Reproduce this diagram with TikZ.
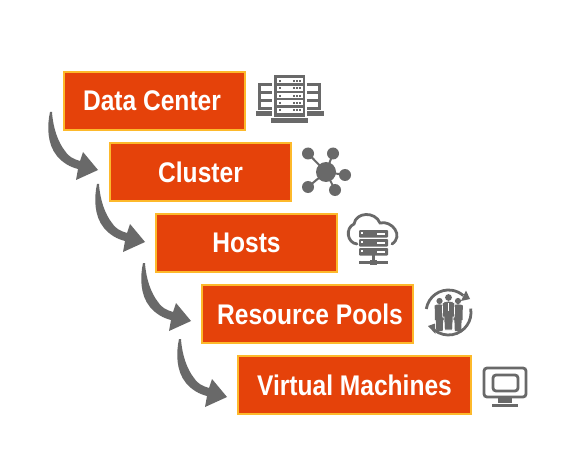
\documentclass[tikz,border=0pt]{standalone}
\usepackage{fontspec}
\setmainfont[FakeStretch=0.865]{Liberation Sans}
\usetikzlibrary{calc}
\definecolor{boxfill}{HTML}{E5420A}
\definecolor{boxline}{HTML}{FDB92B}
\definecolor{icon}{HTML}{696969}
\tikzset{
 x=1pt,y=-1pt,
 level/.style={draw=boxline,line width=2.3pt,fill=boxfill,text=white,font=\fontsize{28.4}{32}\selectfont\bfseries,inner sep=0pt,outer sep=0pt,minimum height=57.5pt},
 lineicon/.style={draw=icon,fill=none,line width=2.8pt},
 pics/flow/.style={code={
  \fill[icon] (-1,0) .. controls (-4,14) and (-4,32) .. (6,44)
    .. controls (12,51) and (19,55) .. (27,57) -- (25,68) -- (47,58) -- (32,40) -- (29,49)
    .. controls (22,47) and (17,44) .. (14,39)
    .. controls (7,30) and (2,16) .. (1,0) -- cycle;
 }},
 pics/person/.style={code={
  \fill[icon] (0,-5) circle (3.1);
  \fill[icon] (-4.8,-0.5) .. controls (-3,-2) and (3,-2) .. (4.8,-0.5) -- (4.6,14) -- (3.6,14) -- (3.2,25) -- (-3.2,25) -- (-3.6,14) -- (-4.6,14) -- cycle;
 }}
}
\begin{document}
\begin{tikzpicture}
\useasboundingbox (0,0) rectangle (575,465);
\fill[white] (0,0) rectangle (575,465);
% boxes
\node[level,minimum width=180.5pt] (dc) at (154.5,101) {\hspace*{-5pt}\raisebox{0.6pt}{Data Center}};
\node[level,minimum width=180.5pt] (cl) at (200.5,172) {\raisebox{-1pt}{Cluster}};
\node[level,minimum width=180.5pt] (ho) at (246.5,243) {\raisebox{-1pt}{Hosts}};
\node[level,minimum width=210.5pt] (rp) at (307.5,314) {\hspace*{5pt}\raisebox{-1pt}{Resource Pools}};
\node[level,minimum width=233.5pt] (vm) at (354.5,385) {Virtual Machines};
% flow arrows
\coordinate (a1) at (51,112);
\coordinate (a2) at (98,184);
\coordinate (a3) at (144,263);
\coordinate (a4) at (180,339);
\pic at (a1) {flow};
\pic at (a2) {flow};
\pic at (a3) {flow};
\pic at (a4) {flow};
% data centre icon
\fill[icon] (258,83) rectangle (272,110);
\fill[icon] (307,83) rectangle (321,110);
\foreach \y in {86.5,94.5,102.5}{
 \fill[white] (261,\y) rectangle (272,\y+4.6);
 \fill[white] (307,\y) rectangle (318,\y+4.6);
}
\fill[icon] (274,75) rectangle (305,117);
\foreach \y in {78.2,85.8,93.2,100.5,107.8}{
 \fill[white] (277,\y) rectangle (303,\y+4.8);
 \fill[icon] (279,\y+1.4) rectangle (281,\y+3.4);
 \fill[icon] (293,\y+1.4) rectangle (295,\y+3.4);
 \fill[icon] (296,\y+1.4) rectangle (298,\y+3.4);
 \fill[icon] (299,\y+1.4) rectangle (301,\y+3.4);
}
\fill[icon] (256,111) rectangle (272,116);
\fill[icon] (307,111) rectangle (324,116);
\fill[icon] (271,118) rectangle (308,123);
% cluster icon
\coordinate (hub) at (326,172);
\foreach \p/\q in {308/153.5,333/153.5,345/175,308/187,335/190}{
 \draw[icon,line width=2pt] (hub) -- (\p,\q);
 \fill[icon] (\p,\q) circle (6);
}
\fill[icon] (hub) circle (10);
% cloud icon
\draw[lineicon,line cap=round] (357,244) .. controls (347,243) and (345,228) .. (354,224)
  .. controls (356,212) and (375,211) .. (380,223)
  .. controls (392,220) and (404,236) .. (392,244);
\foreach \y in {230,239,248}{
 \fill[icon,rounded corners=1pt] (359,\y) rectangle (388,\y+7.6);
 \fill[white] (361,\y+2) rectangle (363,\y+4);
 \fill[white] (377,\y+3) rectangle (385,\y+5);
}
\fill[icon] (372,255) rectangle (375,262);
\fill[icon] (359,261) rectangle (388,264);
\fill[icon] (370,260) rectangle (377,265);
% resource pool icon
\coordinate (ring) at (448.5,312.5);
\draw[icon,line width=2.8pt] ($(ring)+(-171:22.5)$) arc[start angle=-171,end angle=-49,radius=22.5];
\fill[icon] (470,299) -- (466,290.5) -- (461,301) -- cycle;
\draw[icon,line width=2.8pt] ($(ring)+(-10:22.5)$) arc[start angle=-10,end angle=128,radius=22.5];
\fill[icon] (428,326) -- (435,323.5) -- (435.5,334) -- cycle;
\pic at (439.5,306) {person};
\pic at (458,306) {person};
\fill[icon,draw=white,line width=0.6pt] (442.4,303) .. controls (445,300.5) and (452,300.5) .. (454.6,303) -- (454.4,317) -- (453,317) -- (452.5,330) -- (444.5,330) -- (444,317) -- (442.6,317) -- cycle;
\fill[icon] (448.5,297.5) circle (3.4);
\fill[white] (448,302.5) rectangle (449,311);
% monitor icon
\draw[lineicon,rounded corners=3pt] (484,368) rectangle (526,397);
\draw[lineicon,rounded corners=3pt] (493,375) rectangle (518,391);
\fill[icon] (498,398) rectangle (512,403);
\fill[icon] (492,404) rectangle (518,407);
\end{tikzpicture}
\end{document}
